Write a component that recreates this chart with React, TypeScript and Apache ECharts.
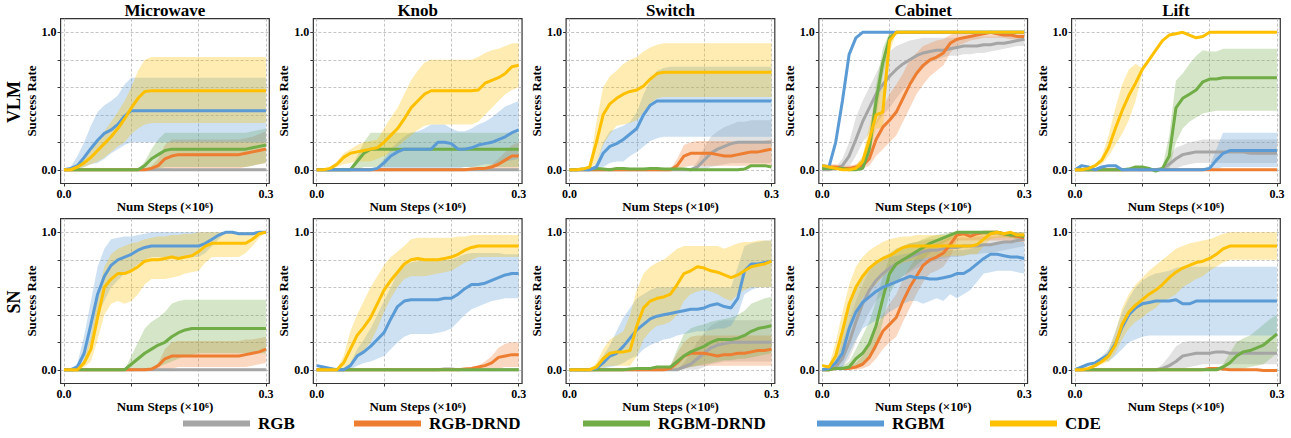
import React, { useEffect, useRef } from 'react';
import * as echarts from 'echarts';

const steps = [0, 0.01, 0.02, 0.03, 0.04, 0.05, 0.06, 0.07, 0.08, 0.09, 0.1, 0.11, 0.12, 0.13, 0.14, 0.15, 0.16, 0.17, 0.18, 0.19, 0.2, 0.21, 0.22, 0.23, 0.24, 0.25, 0.26, 0.27, 0.28, 0.29, 0.3];
const tasks = ['Microwave', 'Knob', 'Switch', 'Cabinet', 'Lift'];
const rowLabels = ['VLM', 'SN'];
const methods = ['RGB', 'RGB-DRND', 'RGBM-DRND', 'RGBM', 'CDE'];
const methodColors = ['#a5a5a5', '#ed7d31', '#70ad47', '#5b9bd5', '#ffc000'];
const bandFills = ['rgba(165,165,165,0.32)', 'rgba(237,125,49,0.3)', 'rgba(112,173,71,0.3)', 'rgba(91,155,213,0.3)', 'rgba(255,192,0,0.3)'];
const yTickValues = [0, 0.2, 0.4, 0.6, 0.8, 1.0];
const yLabelValues = [0, 1];
const xTickValues = [0, 0.1, 0.2, 0.3];
const xLabelValues = [0, 0.3];

// ---------- Microwave / VLM
const mwVlm_RGB = [0,0,0,0,0,0,0,0,0,0, 0,0,0,0,0,0,0,0,0,0, 0,0,0,0,0,0,0,0,0,0, 0];
const mwVlm_RGBDRND = [0,0,0,0,0,0,0,0,0,0, 0,0,0,0.01,0.03,0.08,0.1,0.11,0.11,0.11, 0.11,0.11,0.11,0.11,0.11,0.11,0.11,0.12,0.13,0.14, 0.15];
const mwVlm_RGBDRND_lo = [0,0,0,0,0,0,0,0,0,0, 0,0,0,0,0,0,0.01,0.01,0.01,0.01, 0.01,0.01,0.01,0.01,0.01,0.01,0.01,0.02,0.03,0.04, 0.05];
const mwVlm_RGBDRND_hi = [0,0,0,0,0,0,0,0,0,0, 0,0,0,0.03,0.08,0.18,0.22,0.22,0.22,0.22, 0.22,0.22,0.22,0.22,0.22,0.22,0.22,0.23,0.24,0.26, 0.28];
const mwVlm_RGBMDRND = [0,0,0,0,0,0,0,0,0,0, 0,0,0.03,0.08,0.11,0.14,0.15,0.15,0.15,0.15, 0.15,0.15,0.15,0.15,0.15,0.15,0.15,0.15,0.16,0.17, 0.18];
const mwVlm_RGBMDRND_lo = [0,0,0,0,0,0,0,0,0,0, 0,0,0,0.01,0.01,0.02,0.02,0.02,0.02,0.02, 0.02,0.02,0.02,0.02,0.02,0.02,0.02,0.02,0.03,0.04, 0.05];
const mwVlm_RGBMDRND_hi = [0,0,0,0,0,0,0,0,0,0, 0,0,0.06,0.15,0.22,0.27,0.27,0.27,0.27,0.27, 0.27,0.27,0.27,0.27,0.27,0.27,0.27,0.27,0.28,0.29, 0.3];
const mwVlm_RGBM = [0,0.01,0.03,0.09,0.155,0.215,0.265,0.29,0.33,0.39, 0.43,0.43,0.43,0.43,0.43,0.43,0.43,0.43,0.43,0.43, 0.43,0.43,0.43,0.43,0.43,0.43,0.43,0.43,0.43,0.43, 0.43];
const mwVlm_RGBM_lo = [0,0,0,0.02,0.04,0.05,0.08,0.12,0.15,0.18, 0.2,0.2,0.2,0.2,0.2,0.2,0.2,0.2,0.2,0.2, 0.2,0.2,0.2,0.2,0.2,0.2,0.2,0.2,0.2,0.2, 0.2];
const mwVlm_RGBM_hi = [0,0.02,0.1,0.2,0.32,0.42,0.47,0.5,0.54,0.62, 0.67,0.67,0.67,0.67,0.67,0.67,0.67,0.67,0.67,0.67, 0.67,0.67,0.67,0.67,0.67,0.67,0.67,0.67,0.67,0.67, 0.67];
const mwVlm_CDE = [0,0,0.02,0.05,0.09,0.14,0.19,0.24,0.3,0.37, 0.45,0.52,0.57,0.575,0.575,0.575,0.575,0.575,0.575,0.575, 0.575,0.575,0.575,0.575,0.575,0.575,0.575,0.575,0.575,0.575, 0.575];
const mwVlm_CDE_lo = [0,0,0.01,0.02,0.04,0.06,0.09,0.13,0.17,0.2, 0.26,0.3,0.33,0.34,0.34,0.34,0.34,0.34,0.34,0.34, 0.34,0.34,0.34,0.34,0.34,0.34,0.34,0.34,0.34,0.34, 0.34];
const mwVlm_CDE_hi = [0,0.01,0.04,0.1,0.16,0.22,0.28,0.35,0.42,0.5, 0.6,0.72,0.8,0.82,0.82,0.82,0.82,0.82,0.82,0.82, 0.82,0.82,0.82,0.82,0.82,0.82,0.82,0.82,0.82,0.82, 0.82];

// ---------- Knob / VLM
const knVlm_RGB = [0,0,0,0,0,0,0,0,0,0, 0,0,0,0,0,0,0,0,0,0, 0,0,0,0,0,0,0,0,0,0, 0];
const knVlm_RGBDRND = [0,0,0,0,0,0,0,0,0,0, 0,0,0,0,0,0,0,0,0,0, 0,0,0,0.005,0.01,0.01,0.02,0.04,0.07,0.1, 0.1];
const knVlm_RGBDRND_lo = [0,0,0,0,0,0,0,0,0,0, 0,0,0,0,0,0,0,0,0,0, 0,0,0,0,0,0,0,0,0,0, 0];
const knVlm_RGBDRND_hi = [0,0,0,0,0,0,0,0,0,0, 0,0,0,0,0,0,0,0,0,0, 0,0,0,0.005,0.01,0.02,0.04,0.08,0.13,0.18, 0.2];
const knVlm_RGBMDRND = [0,0,0,0,0,0,0.06,0.12,0.15,0.15, 0.15,0.15,0.15,0.15,0.15,0.15,0.15,0.15,0.15,0.15, 0.15,0.15,0.15,0.15,0.15,0.15,0.15,0.15,0.15,0.15, 0.15];
const knVlm_RGBMDRND_lo = [0,0,0,0,0,0,0,0.02,0.02,0.02, 0.02,0.02,0.02,0.02,0.02,0.02,0.02,0.02,0.02,0.02, 0.02,0.02,0.02,0.02,0.02,0.02,0.02,0.02,0.02,0.02, 0.02];
const knVlm_RGBMDRND_hi = [0,0,0,0,0,0,0.1,0.2,0.27,0.27, 0.27,0.27,0.27,0.27,0.27,0.27,0.27,0.27,0.27,0.27, 0.27,0.27,0.27,0.27,0.27,0.27,0.27,0.27,0.27,0.27, 0.27];
const knVlm_RGBM = [0,0,0,0,0,0,0,0,0,0.01, 0.05,0.1,0.13,0.15,0.15,0.15,0.15,0.15,0.2,0.2, 0.19,0.15,0.15,0.16,0.18,0.19,0.2,0.22,0.24,0.27, 0.29];
const knVlm_RGBM_lo = [0,0,0,0,0,0,0,0,0,0, 0,0,0,0,0,0,0,0,0,0, 0,0.01,0.02,0.02,0.03,0.04,0.04,0.05,0.06,0.07, 0.08];
const knVlm_RGBM_hi = [0,0,0,0,0,0,0,0,0,0.02, 0.08,0.15,0.2,0.24,0.27,0.28,0.3,0.33,0.33,0.33, 0.3,0.28,0.28,0.3,0.33,0.35,0.38,0.42,0.46,0.48, 0.5];
const knVlm_CDE = [0,0,0.01,0.04,0.09,0.12,0.13,0.14,0.15,0.16, 0.2,0.25,0.3,0.37,0.45,0.5,0.55,0.575,0.575,0.575, 0.575,0.575,0.575,0.575,0.58,0.63,0.65,0.67,0.7,0.75, 0.76];
const knVlm_CDE_lo = [0,0,0,0.02,0.04,0.05,0.06,0.06,0.06,0.08, 0.1,0.13,0.17,0.21,0.25,0.29,0.32,0.33,0.33,0.33, 0.33,0.33,0.33,0.33,0.35,0.4,0.45,0.5,0.55,0.58, 0.6];
const knVlm_CDE_hi = [0,0,0.02,0.06,0.12,0.15,0.18,0.2,0.21,0.22, 0.3,0.38,0.45,0.55,0.65,0.72,0.78,0.8,0.8,0.8, 0.8,0.8,0.8,0.8,0.82,0.85,0.87,0.88,0.9,0.92, 0.92];

// ---------- Switch / VLM
const swVlm_RGB = [0,0,0,0,0,0,0,0,0,0, 0,0,0,0,0,0,0,0,0,0.02, 0.07,0.12,0.15,0.17,0.19,0.2,0.2,0.2,0.2,0.2, 0.2];
const swVlm_RGB_lo = [0,0,0,0,0,0,0,0,0,0, 0,0,0,0,0,0,0,0,0,0, 0,0.02,0.03,0.04,0.05,0.05,0.05,0.05,0.05,0.05, 0.05];
const swVlm_RGB_hi = [0,0,0,0,0,0,0,0,0,0, 0,0,0,0,0,0,0,0,0,0.06, 0.16,0.24,0.28,0.31,0.33,0.35,0.35,0.36,0.36,0.36, 0.36];
const swVlm_RGBDRND = [0,0,0,0,0,0,0,0,0,0, 0,0,0,0,0,0,0.03,0.1,0.12,0.12, 0.12,0.12,0.11,0.1,0.1,0.11,0.12,0.13,0.13,0.14, 0.15];
const swVlm_RGBDRND_lo = [0,0,0,0,0,0,0,0,0,0, 0,0,0,0,0,0,0,0.02,0.03,0.03, 0.03,0.03,0.03,0.03,0.03,0.03,0.03,0.03,0.03,0.03, 0.03];
const swVlm_RGBDRND_hi = [0,0,0,0,0,0,0,0,0,0, 0,0,0,0,0,0,0.08,0.18,0.2,0.21, 0.21,0.21,0.21,0.21,0.21,0.21,0.21,0.21,0.21,0.21, 0.22];
const swVlm_RGBMDRND = [0,0,0.005,0.005,0.01,0.005,0,0.01,0.01,0.005, 0.005,0.005,0.01,0.01,0.005,0.005,0.005,0.005,0,0, 0,0,0,0,0,0,0.005,0.03,0.03,0.03, 0.02];
const swVlm_RGBM = [0,0,0,0,0.02,0.12,0.17,0.19,0.22,0.26, 0.3,0.4,0.47,0.5,0.5,0.5,0.5,0.5,0.5,0.5, 0.5,0.5,0.5,0.5,0.5,0.5,0.5,0.5,0.5,0.5, 0.5];
const swVlm_RGBM_lo = [0,0,0,0,0,0.02,0.05,0.06,0.06,0.1, 0.13,0.17,0.21,0.23,0.24,0.24,0.24,0.24,0.24,0.24, 0.24,0.24,0.24,0.24,0.24,0.24,0.24,0.24,0.24,0.24, 0.24];
const swVlm_RGBM_hi = [0,0,0,0,0.05,0.2,0.28,0.3,0.32,0.35, 0.42,0.55,0.65,0.72,0.74,0.75,0.75,0.75,0.75,0.75, 0.75,0.75,0.75,0.75,0.75,0.75,0.75,0.75,0.75,0.75, 0.75];
const swVlm_CDE = [0,0,0.005,0.02,0.2,0.4,0.48,0.52,0.55,0.57, 0.58,0.61,0.66,0.7,0.71,0.71,0.71,0.71,0.71,0.71, 0.71,0.71,0.71,0.71,0.71,0.71,0.71,0.71,0.71,0.71, 0.71];
const swVlm_CDE_lo = [0,0,0,0.01,0.05,0.18,0.26,0.32,0.33,0.34, 0.36,0.42,0.48,0.52,0.53,0.53,0.53,0.53,0.53,0.53, 0.53,0.53,0.53,0.53,0.53,0.53,0.53,0.53,0.53,0.53, 0.53];
const swVlm_CDE_hi = [0,0,0.01,0.03,0.35,0.6,0.68,0.72,0.77,0.8, 0.82,0.86,0.89,0.91,0.92,0.92,0.92,0.92,0.92,0.92, 0.92,0.92,0.92,0.92,0.92,0.92,0.92,0.92,0.92,0.92, 0.92];

// ---------- Cabinet / VLM
const cbVlm_RGB = [0,0,0.01,0.03,0.1,0.22,0.35,0.45,0.55,0.62, 0.68,0.73,0.77,0.8,0.83,0.85,0.86,0.87,0.87,0.88, 0.89,0.9,0.9,0.9,0.91,0.91,0.92,0.92,0.93,0.94, 0.95];
const cbVlm_RGB_lo = [0,0,0,0,0.02,0.1,0.2,0.26,0.33,0.4, 0.45,0.52,0.58,0.64,0.7,0.74,0.78,0.8,0.82,0.83, 0.83,0.84,0.84,0.85,0.85,0.86,0.87,0.88,0.89,0.9, 0.9];
const cbVlm_RGB_hi = [0,0,0.02,0.08,0.2,0.38,0.5,0.6,0.7,0.8, 0.86,0.9,0.92,0.94,0.95,0.96,0.96,0.96,0.96,0.96, 0.96,0.96,0.97,0.97,0.97,0.97,0.97,0.98,0.98,0.98, 0.98];
const cbVlm_RGBDRND = [0.02,0.02,0.02,0.01,0.01,0.02,0.03,0.08,0.22,0.31, 0.36,0.42,0.52,0.62,0.7,0.76,0.8,0.82,0.85,0.92, 0.95,0.96,0.97,0.98,0.99,1,0.99,0.98,0.98,0.97, 0.97];
const cbVlm_RGBDRND_lo = [0,0,0,0,0,0,0.01,0.03,0.1,0.15, 0.2,0.25,0.35,0.45,0.55,0.62,0.68,0.72,0.76,0.85, 0.9,0.92,0.94,0.95,0.96,0.96,0.96,0.96,0.95,0.95, 0.95];
const cbVlm_RGBDRND_hi = [0.04,0.04,0.04,0.03,0.03,0.04,0.08,0.2,0.35,0.45, 0.55,0.62,0.7,0.8,0.85,0.9,0.92,0.94,0.95,0.98, 1,1,1,1,1,1,1,1,1,1, 1];
const cbVlm_RGBMDRND = [0.01,0.01,0.01,0.01,0,0,0.01,0.15,0.5,0.78, 0.96,1,1,1,1,1,1,1,1,1, 1,1,1,1,1,1,1,1,1,1, 1];
const cbVlm_RGBMDRND_lo = [0.01,0.01,0.01,0.01,0,0,0,0.08,0.38,0.68, 0.9,1,1,1,1,1,1,1,1,1, 1,1,1,1,1,1,1,1,1,1, 1];
const cbVlm_RGBMDRND_hi = [0.01,0.01,0.01,0.01,0,0,0.03,0.25,0.62,0.88, 1,1,1,1,1,1,1,1,1,1, 1,1,1,1,1,1,1,1,1,1, 1];
const cbVlm_RGBM = [0.03,0.02,0.2,0.5,0.84,0.96,1,1,1,1, 1,1,1,1,1,1,1,1,1,1, 1,1,1,1,1,1,1,1,1,1, 1];
const cbVlm_CDE = [0.03,0.02,0.01,0,0,0.01,0.06,0.22,0.4,0.42, 0.94,1,1,1,1,1,1,1,1,1, 1,1,1,1,1,1,1,1,1,1, 1];
const cbVlm_CDE_lo = [0.02,0.01,0,0,0,0,0.02,0.12,0.3,0.3, 0.85,1,1,1,1,1,1,1,1,1, 1,1,1,1,1,1,1,1,1,1, 1];
const cbVlm_CDE_hi = [0.04,0.03,0.02,0.01,0.01,0.03,0.1,0.32,0.52,0.6, 1,1,1,1,1,1,1,1,1,1, 1,1,1,1,1,1,1,1,1,1, 1];

// ---------- Lift / VLM
const lfVlm_RGB = [0,0,0,0,0,0,0,0,0,0, 0,0,0,0.01,0.04,0.08,0.11,0.12,0.13,0.13, 0.13,0.13,0.13,0.13,0.13,0.13,0.12,0.12,0.12,0.12, 0.12];
const lfVlm_RGB_lo = [0,0,0,0,0,0,0,0,0,0, 0,0,0,0,0,0.01,0.03,0.04,0.05,0.05, 0.05,0.05,0.05,0.05,0.05,0.05,0.05,0.05,0.05,0.05, 0.05];
const lfVlm_RGB_hi = [0,0,0,0,0,0,0,0,0,0, 0,0,0,0.02,0.1,0.16,0.18,0.2,0.21,0.22, 0.22,0.22,0.22,0.22,0.22,0.22,0.22,0.22,0.22,0.22, 0.22];
const lfVlm_RGBDRND = [0,0,0,0,0,0,0,0,0,0, 0,0,0,0,0,0,0,0,0,0, 0,0,0,0,0,0,0,0,0,0, 0];
const lfVlm_RGBMDRND = [0,0,0,0,0,0,0,0,0.005,0.02, 0.02,0.01,-0.01,0.01,0.1,0.45,0.52,0.55,0.58,0.64, 0.66,0.66,0.67,0.67,0.67,0.67,0.67,0.67,0.67,0.67, 0.67];
const lfVlm_RGBMDRND_lo = [0,0,0,0,0,0,0,0,0.005,0.02, 0.02,0.01,-0.01,0,0,0.2,0.3,0.35,0.38,0.41, 0.42,0.43,0.43,0.43,0.43,0.43,0.43,0.43,0.43,0.43, 0.43];
const lfVlm_RGBMDRND_hi = [0,0,0,0,0,0,0,0,0.005,0.02, 0.02,0.01,-0.01,0.02,0.25,0.65,0.7,0.77,0.83,0.87, 0.86,0.86,0.88,0.88,0.88,0.88,0.88,0.88,0.88,0.88, 0.88];
const lfVlm_RGBM = [0,0.03,0.02,0,0.02,0.03,0.03,0,0,0, 0,0,0,0,0,0,0,0,0,0, 0.01,0.07,0.12,0.14,0.14,0.14,0.14,0.14,0.14,0.14, 0.14];
const lfVlm_RGBM_lo = [0,0.03,0.02,0,0.02,0.03,0.03,0,0,0, 0,0,0,0,0,0,0,0,0,0, 0,0.01,0.02,0.02,0.02,0.02,0.02,0.02,0.02,0.02, 0.02];
const lfVlm_RGBM_hi = [0,0.03,0.02,0,0.02,0.03,0.03,0,0,0, 0,0,0,0,0,0,0,0,0,0, 0.03,0.15,0.27,0.27,0.27,0.27,0.27,0.27,0.27,0.27, 0.27];
const lfVlm_CDE = [0,0,0.01,0.03,0.07,0.16,0.3,0.43,0.54,0.63, 0.73,0.8,0.87,0.94,0.98,0.99,1,0.98,0.96,0.97, 1,1,1,1,1,1,1,1,1,1, 1];
const lfVlm_CDE_lo = [0,0,0.01,0.02,0.04,0.1,0.18,0.26,0.36,0.5, 0.7,0.8,0.87,0.94,0.98,0.99,1,0.98,0.96,0.97, 1,1,1,1,1,1,1,1,1,1, 1];
const lfVlm_CDE_hi = [0,0,0.01,0.04,0.1,0.25,0.45,0.62,0.73,0.77, 0.74,0.8,0.87,0.94,0.98,0.99,1,0.98,0.96,0.97, 1,1,1,1,1,1,1,1,1,1, 1];

// ---------- Microwave / SN
const mwSn_RGB = [0,0,0,0,0,0,0,0,0,0, 0,0,0,0,0,0,0,0,0,0, 0,0,0,0,0,0,0,0,0,0, 0];
const mwSn_RGBDRND = [0,0,0,0,0,0,0,0,0,0, 0,0,0,0.005,0.03,0.08,0.1,0.1,0.1,0.1, 0.1,0.1,0.1,0.1,0.1,0.1,0.1,0.11,0.12,0.13, 0.15];
const mwSn_RGBDRND_lo = [0,0,0,0,0,0,0,0,0,0, 0,0,0,0,0,0,0.01,0.02,0.02,0.02, 0.02,0.02,0.02,0.02,0.02,0.02,0.02,0.02,0.03,0.04, 0.05];
const mwSn_RGBDRND_hi = [0,0,0,0,0,0,0,0,0,0, 0,0,0,0.01,0.05,0.15,0.2,0.21,0.21,0.21, 0.21,0.21,0.21,0.21,0.21,0.21,0.21,0.22,0.22,0.23, 0.24];
const mwSn_RGBMDRND = [0,0,0,0,0,0,0,0,0,0, 0.04,0.08,0.12,0.15,0.18,0.2,0.24,0.27,0.29,0.3, 0.3,0.3,0.3,0.3,0.3,0.3,0.3,0.3,0.3,0.3, 0.3];
const mwSn_RGBMDRND_lo = [0,0,0,0,0,0,0,0,0,0, 0,0,0,0.01,0.02,0.04,0.06,0.08,0.1,0.11, 0.12,0.12,0.12,0.12,0.12,0.12,0.12,0.12,0.12,0.12, 0.12];
const mwSn_RGBMDRND_hi = [0,0,0,0,0,0,0,0,0,0, 0.1,0.2,0.3,0.35,0.38,0.42,0.48,0.5,0.51,0.51, 0.51,0.51,0.51,0.51,0.51,0.51,0.51,0.51,0.51,0.51, 0.51];
const mwSn_RGBM = [0,0,0.02,0.12,0.33,0.55,0.68,0.76,0.8,0.82, 0.84,0.87,0.89,0.9,0.9,0.9,0.9,0.9,0.9,0.9, 0.9,0.92,0.95,0.98,1,1,0.99,0.99,0.99,1, 1];
const mwSn_RGBM_lo = [0,0,0,0.05,0.2,0.4,0.5,0.6,0.65,0.7, 0.73,0.77,0.8,0.82,0.82,0.82,0.82,0.82,0.82,0.82, 0.82,0.85,0.9,0.95,1,1,0.99,0.99,0.99,1, 1];
const mwSn_RGBM_hi = [0,0,0.05,0.25,0.5,0.75,0.88,0.95,0.96,0.97, 0.97,0.98,0.99,1,1,1,1,1,1,1, 1,1,1,1,1,1,1,1,1,1, 1];
const mwSn_CDE = [0,0,0,0.05,0.15,0.38,0.6,0.66,0.7,0.7, 0.72,0.75,0.79,0.8,0.8,0.81,0.82,0.81,0.82,0.83, 0.86,0.9,0.92,0.92,0.92,0.92,0.92,0.92,0.95,0.99, 1];
const mwSn_CDE_lo = [0,0,0,0.02,0.06,0.22,0.4,0.48,0.5,0.48, 0.5,0.55,0.62,0.66,0.66,0.66,0.67,0.68,0.7,0.71, 0.72,0.78,0.82,0.82,0.82,0.82,0.82,0.85,0.9,0.96, 1];
const mwSn_CDE_hi = [0,0,0,0.08,0.25,0.55,0.75,0.84,0.88,0.9, 0.92,0.93,0.95,0.96,0.97,0.97,0.98,0.98,0.99,0.99, 1,1,1,1,1,1,1,1,1,1, 1];

// ---------- Knob / SN
const knSn_RGB = [0,0,0,0,0,0,0,0,0,0, 0,0,0,0,0,0,0,0,0,0.005, 0.005,0,0,0,0,0,0,0,0,0, 0];
const knSn_RGBDRND = [0,0,0,0,0,0,0,0,0,0, 0,0,0,0,0,0,0,0,0,0, 0,0,0.005,0.01,0.02,0.03,0.05,0.09,0.1,0.11, 0.11];
const knSn_RGBDRND_lo = [0,0,0,0,0,0,0,0,0,0, 0,0,0,0,0,0,0,0,0,0, 0,0,0,0,0,0,0,0.01,0.02,0.02, 0.02];
const knSn_RGBDRND_hi = [0,0,0,0,0,0,0,0,0,0, 0,0,0,0,0,0,0,0,0,0, 0,0,0.01,0.02,0.03,0.06,0.1,0.16,0.19,0.2, 0.2];
const knSn_RGBMDRND = [0,0,0,0,0,0,0,0,0,0, 0,0,0,0,0,0,0,0,0,0, 0,0,0,0,0,0,0,0,0,0, 0];
const knSn_RGBM = [0.03,0.02,0.01,0,0,0.03,0.1,0.13,0.17,0.22, 0.27,0.37,0.46,0.5,0.51,0.51,0.51,0.51,0.51,0.52, 0.52,0.55,0.59,0.62,0.62,0.63,0.65,0.67,0.69,0.7, 0.7];
const knSn_RGBM_lo = [0.03,0.02,0.01,0,0,0,0.03,0.05,0.06,0.08, 0.1,0.15,0.2,0.24,0.26,0.26,0.26,0.26,0.27,0.28, 0.3,0.35,0.4,0.44,0.46,0.48,0.5,0.51,0.52,0.52, 0.52];
const knSn_RGBM_hi = [0.03,0.02,0.01,0,0,0.05,0.15,0.22,0.3,0.4, 0.5,0.6,0.7,0.76,0.78,0.79,0.8,0.8,0.8,0.8, 0.8,0.82,0.84,0.85,0.85,0.85,0.85,0.85,0.84,0.84, 0.84];
const knSn_CDE = [0,0,0,0,0.05,0.15,0.25,0.31,0.38,0.48, 0.58,0.65,0.71,0.77,0.8,0.81,0.8,0.8,0.8,0.81, 0.82,0.84,0.87,0.89,0.9,0.9,0.9,0.9,0.9,0.9, 0.9];
const knSn_CDE_lo = [0,0,0,0,0.01,0.03,0.1,0.14,0.2,0.3, 0.42,0.52,0.6,0.66,0.68,0.68,0.68,0.69,0.7,0.71, 0.72,0.75,0.78,0.8,0.82,0.82,0.82,0.82,0.82,0.82, 0.82];
const knSn_CDE_hi = [0,0,0,0.01,0.1,0.28,0.4,0.5,0.6,0.68, 0.76,0.82,0.86,0.9,0.95,0.96,0.96,0.96,0.96,0.96, 0.96,0.97,0.97,0.98,0.98,0.98,0.98,0.98,0.98,0.98, 0.98];

// ---------- Switch / SN
const swSn_RGB = [0,0,0,0,0,0,0,0,0,0, 0,0,0,0,0,0,0,0.02,0.04,0.08, 0.12,0.16,0.18,0.19,0.2,0.2,0.2,0.2,0.2,0.2, 0.2];
const swSn_RGB_lo = [0,0,0,0,0,0,0,0,0,0, 0,0,0,0,0,0,0,0,0,0, 0.02,0.04,0.05,0.06,0.06,0.06,0.06,0.06,0.06,0.06, 0.06];
const swSn_RGB_hi = [0,0,0,0,0,0,0,0,0,0, 0,0,0,0,0,0,0,0.05,0.12,0.2, 0.27,0.32,0.35,0.36,0.36,0.36,0.36,0.36,0.36,0.36, 0.36];
const swSn_RGBDRND = [0,0,0,0,0,0,0,0,0,0, 0,0,0,0,0,0.01,0.05,0.1,0.12,0.12, 0.12,0.11,0.1,0.11,0.11,0.12,0.12,0.13,0.14,0.14, 0.15];
const swSn_RGBDRND_lo = [0,0,0,0,0,0,0,0,0,0, 0,0,0,0,0,0,0,0.01,0.02,0.03, 0.03,0.03,0.03,0.03,0.03,0.03,0.03,0.03,0.03,0.03, 0.03];
const swSn_RGBDRND_hi = [0,0,0,0,0,0,0,0,0,0, 0,0,0,0,0,0.03,0.12,0.2,0.24,0.25, 0.25,0.25,0.25,0.25,0.25,0.25,0.25,0.25,0.25,0.25, 0.25];
const swSn_RGBMDRND = [0,0,0,0,0,0,0,0,0,0.005, 0.01,0.01,0.01,0.02,0.02,0.02,0.06,0.1,0.13,0.15, 0.17,0.2,0.22,0.22,0.22,0.23,0.25,0.28,0.3,0.31, 0.32];
const swSn_RGBMDRND_lo = [0,0,0,0,0,0,0,0,0,0.005, 0.01,0.01,0.01,0.02,0.02,0.02,0,0.01,0.02,0.03, 0.04,0.05,0.06,0.07,0.07,0.08,0.08,0.09,0.1,0.11, 0.12];
const swSn_RGBMDRND_hi = [0,0,0,0,0,0,0,0,0,0.005, 0.01,0.01,0.01,0.02,0.02,0.03,0.15,0.26,0.3,0.32, 0.33,0.35,0.36,0.37,0.38,0.4,0.43,0.48,0.5,0.52, 0.53];
const swSn_RGBM = [0,0,0,0,0.01,0.05,0.1,0.12,0.17,0.23, 0.29,0.33,0.37,0.39,0.4,0.41,0.42,0.43,0.44,0.44, 0.45,0.47,0.48,0.46,0.45,0.52,0.72,0.77,0.77,0.78, 0.79];
const swSn_RGBM_lo = [0,0,0,0,0,0.01,0.02,0.03,0.05,0.08, 0.1,0.15,0.18,0.2,0.22,0.23,0.25,0.26,0.27,0.28, 0.28,0.29,0.3,0.3,0.32,0.4,0.55,0.58,0.6,0.6, 0.6];
const swSn_RGBM_hi = [0,0,0,0,0.02,0.1,0.18,0.28,0.38,0.45, 0.52,0.55,0.58,0.6,0.6,0.6,0.6,0.6,0.6,0.6, 0.6,0.6,0.6,0.6,0.6,0.75,0.9,0.92,0.93,0.94, 0.94];
const swSn_CDE = [0,0,0,0,0.02,0.08,0.12,0.13,0.13,0.14, 0.32,0.45,0.5,0.52,0.53,0.55,0.62,0.7,0.72,0.75, 0.74,0.72,0.71,0.69,0.67,0.69,0.72,0.75,0.76,0.77, 0.79];
const swSn_CDE_lo = [0,0,0,0,0,0.02,0.03,0.03,0.03,0.03, 0.1,0.22,0.28,0.32,0.33,0.35,0.4,0.5,0.55,0.57, 0.58,0.57,0.55,0.52,0.5,0.55,0.58,0.6,0.6,0.6, 0.6];
const swSn_CDE_hi = [0,0,0,0,0.05,0.15,0.22,0.25,0.28,0.4, 0.58,0.7,0.75,0.78,0.8,0.84,0.88,0.9,0.9,0.9, 0.9,0.9,0.9,0.88,0.9,0.92,0.93,0.93,0.94,0.94, 0.94];

// ---------- Cabinet / SN
const cbSn_RGB = [0,0,0.02,0.08,0.2,0.35,0.48,0.58,0.65,0.7, 0.74,0.77,0.8,0.82,0.84,0.86,0.87,0.87,0.88,0.89, 0.89,0.9,0.9,0.9,0.91,0.91,0.92,0.93,0.93,0.94, 0.95];
const cbSn_RGB_lo = [0,0,0,0.02,0.08,0.2,0.32,0.42,0.5,0.55, 0.6,0.64,0.68,0.71,0.74,0.76,0.78,0.8,0.81,0.82, 0.82,0.83,0.84,0.84,0.85,0.85,0.86,0.87,0.88,0.89, 0.9];
const cbSn_RGB_hi = [0,0,0.05,0.2,0.35,0.5,0.62,0.72,0.78,0.82, 0.85,0.88,0.9,0.92,0.93,0.94,0.95,0.95,0.95,0.96, 0.96,0.96,0.96,0.97,0.97,0.97,0.97,0.98,0.98,0.98, 0.98];
const cbSn_RGBDRND = [0,0,0.01,0.01,0.01,0.02,0.04,0.09,0.18,0.28, 0.33,0.38,0.5,0.6,0.68,0.76,0.8,0.82,0.85,0.91, 0.98,0.99,0.97,0.99,1,1,1,0.99,0.98,0.97, 0.96];
const cbSn_RGBDRND_lo = [0,0,0,0,0,0,0.01,0.03,0.08,0.15, 0.2,0.24,0.35,0.45,0.55,0.64,0.7,0.72,0.75,0.82, 0.94,0.94,0.94,0.94,0.94,0.94,0.94,0.94,0.93,0.93, 0.93];
const cbSn_RGBDRND_hi = [0,0,0.02,0.02,0.03,0.05,0.1,0.2,0.3,0.4, 0.48,0.55,0.66,0.75,0.82,0.88,0.9,0.92,0.94,0.97, 1,1,1,1,1,1,1,1,1,1, 1];
const cbSn_RGBMDRND = [0,0,0.01,0.01,0.02,0.08,0.12,0.19,0.32,0.52, 0.7,0.77,0.8,0.83,0.86,0.89,0.92,0.94,0.96,0.98, 1,1,1,1,1,1,1,0.99,0.98,0.98, 0.97];
const cbSn_RGBMDRND_lo = [0,0,0,0,0,0.02,0.04,0.08,0.15,0.35, 0.55,0.64,0.68,0.72,0.76,0.8,0.85,0.88,0.92,0.95, 0.98,0.98,0.98,0.98,0.98,0.98,0.98,0.97,0.96,0.95, 0.95];
const cbSn_RGBMDRND_hi = [0,0,0.02,0.03,0.06,0.15,0.25,0.35,0.5,0.68, 0.82,0.88,0.9,0.92,0.93,0.95,0.97,0.98,0.99,1, 1,1,1,1,1,1,1,1,1,1, 1];
const cbSn_RGBM = [0,0.01,0.05,0.12,0.3,0.42,0.49,0.53,0.57,0.6, 0.62,0.64,0.66,0.68,0.67,0.67,0.66,0.66,0.67,0.68, 0.7,0.7,0.73,0.77,0.81,0.84,0.84,0.83,0.82,0.82, 0.81];
const cbSn_RGBM_lo = [0,0,0.01,0.02,0.12,0.22,0.3,0.33,0.36,0.38, 0.42,0.45,0.48,0.5,0.5,0.48,0.5,0.52,0.5,0.55, 0.52,0.55,0.58,0.64,0.7,0.71,0.72,0.72,0.72,0.71, 0.7];
const cbSn_RGBM_hi = [0,0.02,0.1,0.3,0.48,0.6,0.68,0.74,0.78,0.8, 0.82,0.83,0.84,0.85,0.86,0.86,0.86,0.86,0.86,0.87, 0.87,0.87,0.88,0.89,0.9,0.91,0.92,0.92,0.92,0.93, 0.93];
const cbSn_CDE = [0.03,0.02,0.1,0.28,0.48,0.6,0.68,0.74,0.78,0.81, 0.83,0.86,0.89,0.9,0.9,0.9,0.9,0.9,0.9,0.9, 0.9,0.9,0.9,0.91,0.95,0.99,1,0.99,1,0.98, 0.98];
const cbSn_CDE_lo = [0.02,0.01,0.03,0.15,0.3,0.42,0.52,0.58,0.62,0.68, 0.72,0.75,0.78,0.79,0.8,0.81,0.82,0.82,0.82,0.83, 0.83,0.83,0.84,0.84,0.9,0.95,0.96,0.96,0.96,0.96, 0.96];
const cbSn_CDE_hi = [0.04,0.03,0.2,0.42,0.62,0.75,0.82,0.87,0.9,0.93, 0.95,0.96,0.97,0.97,0.98,0.98,0.98,0.98,0.98,0.98, 0.98,0.98,0.98,0.98,0.99,0.99,0.99,0.99,0.99,0.99, 0.99];

// ---------- Lift / SN
const lfSn_RGB = [0,0,0,0,0,0,0,0,0,0, 0,0,0,0.01,0.03,0.06,0.1,0.11,0.12,0.12, 0.12,0.13,0.13,0.12,0.12,0.12,0.12,0.12,0.12,0.12, 0.12];
const lfSn_RGB_lo = [0,0,0,0,0,0,0,0,0,0, 0,0,0,0,0,0,0.01,0.02,0.03,0.04, 0.04,0.04,0.04,0.04,0.04,0.04,0.04,0.04,0.04,0.04, 0.04];
const lfSn_RGB_hi = [0,0,0,0,0,0,0,0,0,0, 0,0,0,0.04,0.1,0.17,0.2,0.21,0.21,0.21, 0.21,0.21,0.21,0.21,0.21,0.21,0.2,0.2,0.2,0.2, 0.2];
const lfSn_RGBDRND = [0,0,0,0,0,0,0,0,0,0, 0,0,0,0,0,0,0,0,0,0, 0.01,0.01,0.005,0,0,0,0,0,-0.005,-0.005, -0.005];
const lfSn_RGBMDRND = [0,0,0,0,0,0,0,0,0,0, 0,0,0,0,0,0,0,0,0,0, 0,0,0.02,0.05,0.1,0.13,0.14,0.16,0.18,0.22, 0.26];
const lfSn_RGBMDRND_lo = [0,0,0,0,0,0,0,0,0,0, 0,0,0,0,0,0,0,0,0,0, 0,0,0,0,0,0.01,0.02,0.03,0.04,0.08, 0.12];
const lfSn_RGBMDRND_hi = [0,0,0,0,0,0,0,0,0,0, 0,0,0,0,0,0,0,0,0,0, 0,0,0.04,0.12,0.2,0.23,0.25,0.29,0.33,0.37, 0.4];
const lfSn_RGBM = [0,0.02,0.04,0.05,0.08,0.11,0.19,0.31,0.4,0.45, 0.48,0.49,0.5,0.5,0.5,0.51,0.48,0.48,0.5,0.5, 0.5,0.5,0.5,0.5,0.5,0.5,0.5,0.5,0.5,0.5, 0.5];
const lfSn_RGBM_lo = [0,0.02,0.04,0.04,0.06,0.06,0.1,0.15,0.2,0.22, 0.24,0.25,0.25,0.25,0.25,0.25,0.25,0.25,0.25,0.25, 0.25,0.25,0.25,0.25,0.25,0.25,0.25,0.25,0.25,0.25, 0.25];
const lfSn_RGBM_hi = [0,0.02,0.04,0.06,0.1,0.15,0.28,0.42,0.52,0.6, 0.65,0.68,0.7,0.71,0.72,0.74,0.75,0.75,0.75,0.75, 0.75,0.75,0.75,0.75,0.75,0.75,0.75,0.75,0.75,0.75, 0.75];
const lfSn_CDE = [0,0,0.01,0.03,0.06,0.1,0.18,0.33,0.42,0.47, 0.51,0.55,0.58,0.62,0.67,0.71,0.74,0.76,0.78,0.79, 0.81,0.84,0.88,0.9,0.9,0.9,0.9,0.9,0.9,0.9, 0.9];
const lfSn_CDE_lo = [0,0,0.01,0.02,0.04,0.06,0.12,0.22,0.3,0.35, 0.38,0.42,0.45,0.5,0.52,0.55,0.6,0.63,0.66,0.68, 0.72,0.75,0.78,0.8,0.8,0.8,0.8,0.8,0.8,0.8, 0.8];
const lfSn_CDE_hi = [0,0,0.01,0.04,0.08,0.14,0.27,0.45,0.55,0.62, 0.67,0.72,0.76,0.8,0.84,0.88,0.9,0.92,0.93,0.94, 0.95,0.97,0.99,1,1,1,1,1,1,1, 1];

// Tables (panel order: VLM row then SN row; method order as in `methods`)
const meanTable = [
  [mwVlm_RGB, mwVlm_RGBDRND, mwVlm_RGBMDRND, mwVlm_RGBM, mwVlm_CDE],
  [knVlm_RGB, knVlm_RGBDRND, knVlm_RGBMDRND, knVlm_RGBM, knVlm_CDE],
  [swVlm_RGB, swVlm_RGBDRND, swVlm_RGBMDRND, swVlm_RGBM, swVlm_CDE],
  [cbVlm_RGB, cbVlm_RGBDRND, cbVlm_RGBMDRND, cbVlm_RGBM, cbVlm_CDE],
  [lfVlm_RGB, lfVlm_RGBDRND, lfVlm_RGBMDRND, lfVlm_RGBM, lfVlm_CDE],
  [mwSn_RGB, mwSn_RGBDRND, mwSn_RGBMDRND, mwSn_RGBM, mwSn_CDE],
  [knSn_RGB, knSn_RGBDRND, knSn_RGBMDRND, knSn_RGBM, knSn_CDE],
  [swSn_RGB, swSn_RGBDRND, swSn_RGBMDRND, swSn_RGBM, swSn_CDE],
  [cbSn_RGB, cbSn_RGBDRND, cbSn_RGBMDRND, cbSn_RGBM, cbSn_CDE],
  [lfSn_RGB, lfSn_RGBDRND, lfSn_RGBMDRND, lfSn_RGBM, lfSn_CDE],
];
const loTable = [
  [null, mwVlm_RGBDRND_lo, mwVlm_RGBMDRND_lo, mwVlm_RGBM_lo, mwVlm_CDE_lo],
  [null, knVlm_RGBDRND_lo, knVlm_RGBMDRND_lo, knVlm_RGBM_lo, knVlm_CDE_lo],
  [swVlm_RGB_lo, swVlm_RGBDRND_lo, null, swVlm_RGBM_lo, swVlm_CDE_lo],
  [cbVlm_RGB_lo, cbVlm_RGBDRND_lo, cbVlm_RGBMDRND_lo, null, cbVlm_CDE_lo],
  [lfVlm_RGB_lo, null, lfVlm_RGBMDRND_lo, lfVlm_RGBM_lo, lfVlm_CDE_lo],
  [null, mwSn_RGBDRND_lo, mwSn_RGBMDRND_lo, mwSn_RGBM_lo, mwSn_CDE_lo],
  [null, knSn_RGBDRND_lo, null, knSn_RGBM_lo, knSn_CDE_lo],
  [swSn_RGB_lo, swSn_RGBDRND_lo, swSn_RGBMDRND_lo, swSn_RGBM_lo, swSn_CDE_lo],
  [cbSn_RGB_lo, cbSn_RGBDRND_lo, cbSn_RGBMDRND_lo, cbSn_RGBM_lo, cbSn_CDE_lo],
  [lfSn_RGB_lo, null, lfSn_RGBMDRND_lo, lfSn_RGBM_lo, lfSn_CDE_lo],
];
const hiTable = [
  [null, mwVlm_RGBDRND_hi, mwVlm_RGBMDRND_hi, mwVlm_RGBM_hi, mwVlm_CDE_hi],
  [null, knVlm_RGBDRND_hi, knVlm_RGBMDRND_hi, knVlm_RGBM_hi, knVlm_CDE_hi],
  [swVlm_RGB_hi, swVlm_RGBDRND_hi, null, swVlm_RGBM_hi, swVlm_CDE_hi],
  [cbVlm_RGB_hi, cbVlm_RGBDRND_hi, cbVlm_RGBMDRND_hi, null, cbVlm_CDE_hi],
  [lfVlm_RGB_hi, null, lfVlm_RGBMDRND_hi, lfVlm_RGBM_hi, lfVlm_CDE_hi],
  [null, mwSn_RGBDRND_hi, mwSn_RGBMDRND_hi, mwSn_RGBM_hi, mwSn_CDE_hi],
  [null, knSn_RGBDRND_hi, null, knSn_RGBM_hi, knSn_CDE_hi],
  [swSn_RGB_hi, swSn_RGBDRND_hi, swSn_RGBMDRND_hi, swSn_RGBM_hi, swSn_CDE_hi],
  [cbSn_RGB_hi, cbSn_RGBDRND_hi, cbSn_RGBMDRND_hi, cbSn_RGBM_hi, cbSn_CDE_hi],
  [lfSn_RGB_hi, null, lfSn_RGBMDRND_hi, lfSn_RGBM_hi, lfSn_CDE_hi],
];

const FONT = '"Liberation Serif", "Times New Roman", Times, serif';

function fmtX(v: number) {
  if (Math.abs(v) < 1e-9) return '0.0';
  if (Math.abs(v - 0.3) < 1e-9) return '0.3';
  return '';
}
function fmtY(v: number) {
  if (Math.abs(v) < 1e-9) return '0.0';
  if (Math.abs(v - 1) < 1e-9) return '1.0';
  return '';
}

export default function App() {
  const ref = useRef<HTMLDivElement>(null);
  useEffect(() => {
    if (!ref.current) return;
    const chart = echarts.init(ref.current, null, { renderer: 'svg' });
    const colW = 252.75, left0 = 60.6, gw = 208.7, top0 = 18.6, rowH = 200, gh = 164.9;
    const grids: any[] = [], xAxes: any[] = [], yAxes: any[] = [], series: any[] = [], graphic: any[] = [];

    for (let r = 0; r < 2; r++) {
      for (let c = 0; c < 5; c++) {
        const gi = r * 5 + c;
        grids.push({
          left: left0 + c * colW, top: top0 + r * rowH, width: gw, height: gh,
          show: true, borderColor: '#333', borderWidth: 1.2, backgroundColor: 'transparent',
          containLabel: false, outerBoundsMode: 'none',
        });
        xAxes.push({
          type: 'value', gridIndex: gi, min: -0.005, max: 0.305, splitNumber: 3,
          name: 'Num Steps (×10⁶)', nameLocation: 'middle', nameGap: 12,
          nameTextStyle: { fontFamily: FONT, fontSize: 13, fontWeight: 'bold', color: '#000' },
          axisLine: { show: false, onZero: false },
          axisTick: { show: true, length: 3, inside: false, customValues: xTickValues, lineStyle: { color: '#333', width: 1 } },
          axisLabel: { customValues: xLabelValues, formatter: fmtX, margin: 4, fontFamily: FONT, fontSize: 12, fontWeight: 'bold', color: '#000', showMinLabel: true, showMaxLabel: true },
          splitLine: { show: true, lineStyle: { type: [3, 2], color: '#b5b5b5', width: 0.8 } },
        });
        yAxes.push({
          type: 'value', gridIndex: gi, min: -0.1, max: 1.1, splitNumber: 6,
          name: 'Success Rate', nameLocation: 'middle', nameGap: 21, nameRotate: 90,
          nameTextStyle: { fontFamily: FONT, fontSize: 13, fontWeight: 'bold', color: '#000' },
          axisLine: { show: false, onZero: false },
          axisTick: { show: true, length: 3, inside: false, customValues: yTickValues, lineStyle: { color: '#333', width: 1 } },
          axisLabel: { customValues: yLabelValues, formatter: fmtY, margin: 4, fontFamily: FONT, fontSize: 12, fontWeight: 'bold', color: '#000', showMinLabel: true, showMaxLabel: true },
          splitLine: { show: true, lineStyle: { type: [3, 2], color: '#b5b5b5', width: 0.8 } },
        });

        // shaded ranges first (under all lines)
        for (let m = 0; m < methods.length; m++) {
          const lo = loTable[gi][m], hi = hiTable[gi][m];
          if (!lo || !hi) continue;
          const fill = bandFills[m];
          series.push({
            type: 'custom', name: methods[m] + ' range', xAxisIndex: gi, yAxisIndex: gi,
            data: steps.map((x, i) => [x, lo[i], hi[i]]),
            encode: { x: 0, y: [1, 2] },
            silent: true, z: 1, clip: true,
            renderItem: (params: any, api: any) => {
              if (params.dataIndex !== 0) return null;
              const upper = steps.map((x, i) => api.coord([x, hi[i]]));
              const lower = steps.map((x, i) => api.coord([x, lo[i]])).reverse();
              return { type: 'polygon', shape: { points: upper.concat(lower) }, style: { fill, stroke: 'none' } };
            },
          });
        }
        for (let m = 0; m < methods.length; m++) {
          const mean = meanTable[gi][m];
          series.push({
            type: 'line', name: methods[m], xAxisIndex: gi, yAxisIndex: gi,
            data: steps.map((x, i) => [x, mean[i]]),
            symbol: 'none', showSymbol: false,
            lineStyle: { color: methodColors[m], width: 3 }, itemStyle: { color: methodColors[m] },
            silent: true, z: 2, emphasis: { disabled: true },
          });
        }

        if (r === 0) {
          graphic.push({
            type: 'text', x: left0 + c * colW + gw / 2, y: 10,
            style: { text: tasks[c], font: 'bold 17px ' + FONT, fill: '#000', align: 'center', verticalAlign: 'middle' },
            silent: true,
          });
        }
      }
      graphic.push({
        type: 'text', x: 13.7, y: top0 + r * rowH + gh / 2 + 1, rotation: Math.PI / 2,
        style: { text: rowLabels[r], font: 'bold 18px ' + FONT, fill: '#000', align: 'center', verticalAlign: 'middle' },
        silent: true,
      });
    }

    const legendLefts = [183, 354, 583, 817, 990];
    const legends = methods.map((m, i) => ({
      data: [{ name: m, icon: 'rect' }],
      left: legendLefts[i], top: 415, padding: 0,
      itemWidth: 67, itemHeight: 6, selectedMode: false,
      textStyle: { fontFamily: FONT, fontSize: 17, fontWeight: 'bold', color: '#000', padding: [0, 0, 0, 3] },
    }));

    chart.setOption({
      animation: false,
      backgroundColor: '#fff',
      grid: grids, xAxis: xAxes, yAxis: yAxes, series, graphic, legend: legends,
    });
    return () => chart.dispose();
  }, []);
  return <div ref={ref} style={{ position: 'fixed', left: 0, top: 0, width: 1291, height: 438, background: '#fff' }} />;
}
